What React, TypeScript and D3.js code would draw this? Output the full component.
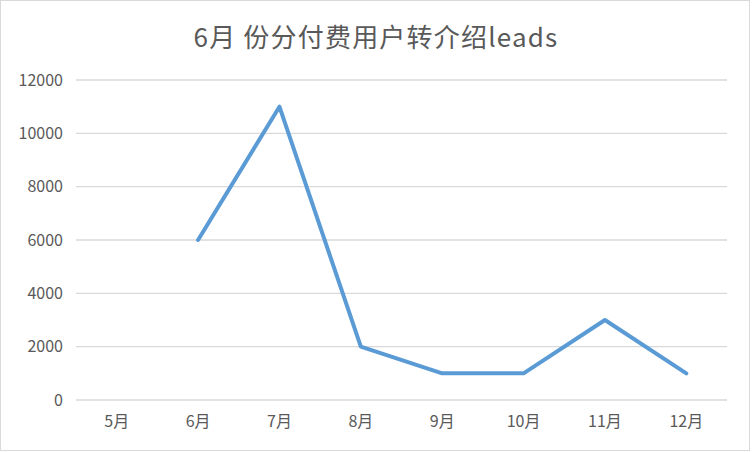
import { useEffect, useRef } from "react";
import * as d3 from "d3";

const MONTHS = ["5月", "6月", "7月", "8月", "9月", "10月", "11月", "12月"];
const LEADS: (number | null)[] = [null, 6000, 11000, 2000, 1000, 1000, 3000, 1000];
const Y_TICKS = [0, 2000, 4000, 6000, 8000, 10000, 12000];
const TITLE = "6月 份分付费用户转介绍leads";

const W = 752;
const H = 452;
const FONT = "'Noto Sans CJK SC', 'Noto Sans', sans-serif";

export default function App() {
  const svgRef = useRef<SVGSVGElement>(null);

  useEffect(() => {
    if (!svgRef.current) return;
    const svg = d3.select(svgRef.current);
    svg.selectAll("*").remove();

    const margin = { top: 80, right: 25, bottom: 52, left: 76 };
    const width = W - margin.left - margin.right;
    const height = H - margin.top - margin.bottom;

    // chart frame
    svg.append("rect")
      .attr("x", 0.5).attr("y", 0.5)
      .attr("width", W - 3).attr("height", H - 2)
      .attr("fill", "#fff").attr("stroke", "#d9d9d9");

    svg.append("text")
      .attr("x", W / 2).attr("y", 47)
      .attr("text-anchor", "middle")
      .attr("fill", "#595959")
      .attr("font-size", "26px")
      .attr("letter-spacing", "1.2px")
      .attr("font-family", FONT)
      .text(TITLE);

    const g = svg.append("g").attr("transform", `translate(${margin.left},${margin.top})`);

    const x = d3.scaleBand<string>().domain(MONTHS).range([0, width]);
    const y = d3.scaleLinear().domain([0, 12000]).range([height, 0]);

    // gridlines
    g.append("g")
      .selectAll("line")
      .data(Y_TICKS)
      .join("line")
      .attr("x1", 0).attr("x2", width)
      .attr("y1", (d) => y(d)).attr("y2", (d) => y(d))
      .attr("stroke", "#d9d9d9").attr("stroke-width", 1.3);

    // Y axis
    g.append("g")
      .call(d3.axisLeft(y).tickValues(Y_TICKS).tickSize(0).tickPadding(13).tickFormat(d3.format("d")))
      .call((g) => g.select(".domain").remove())
      .call((g) => g.selectAll(".tick text")
        .attr("fill", "#595959").attr("font-size", "16px").attr("font-family", FONT));

    // X axis
    g.append("g")
      .attr("transform", `translate(0,${height})`)
      .call(d3.axisBottom(x).tickSize(0).tickPadding(16))
      .call((g) => g.select(".domain").remove())
      .call((g) => g.selectAll(".tick text")
        .attr("fill", "#595959").attr("font-size", "16px").attr("font-family", FONT));

    const line = d3.line<number | null>()
      .defined((d) => d != null)
      .x((_, i) => (x(MONTHS[i]) ?? 0) + x.bandwidth() / 2)
      .y((d) => y(d as number));

    g.append("path")
      .datum(LEADS)
      .attr("d", line)
      .attr("fill", "none")
      .attr("stroke", "#5b9bd5")
      .attr("stroke-width", 4)
      .attr("stroke-linejoin", "round")
      .attr("stroke-linecap", "round");
  }, []);

  return (
    <div style={{ position: "fixed", left: 0, top: 0, width: W, height: H, background: "#fff" }}>
      <svg ref={svgRef} width={W} height={H} />
    </div>
  );
}
